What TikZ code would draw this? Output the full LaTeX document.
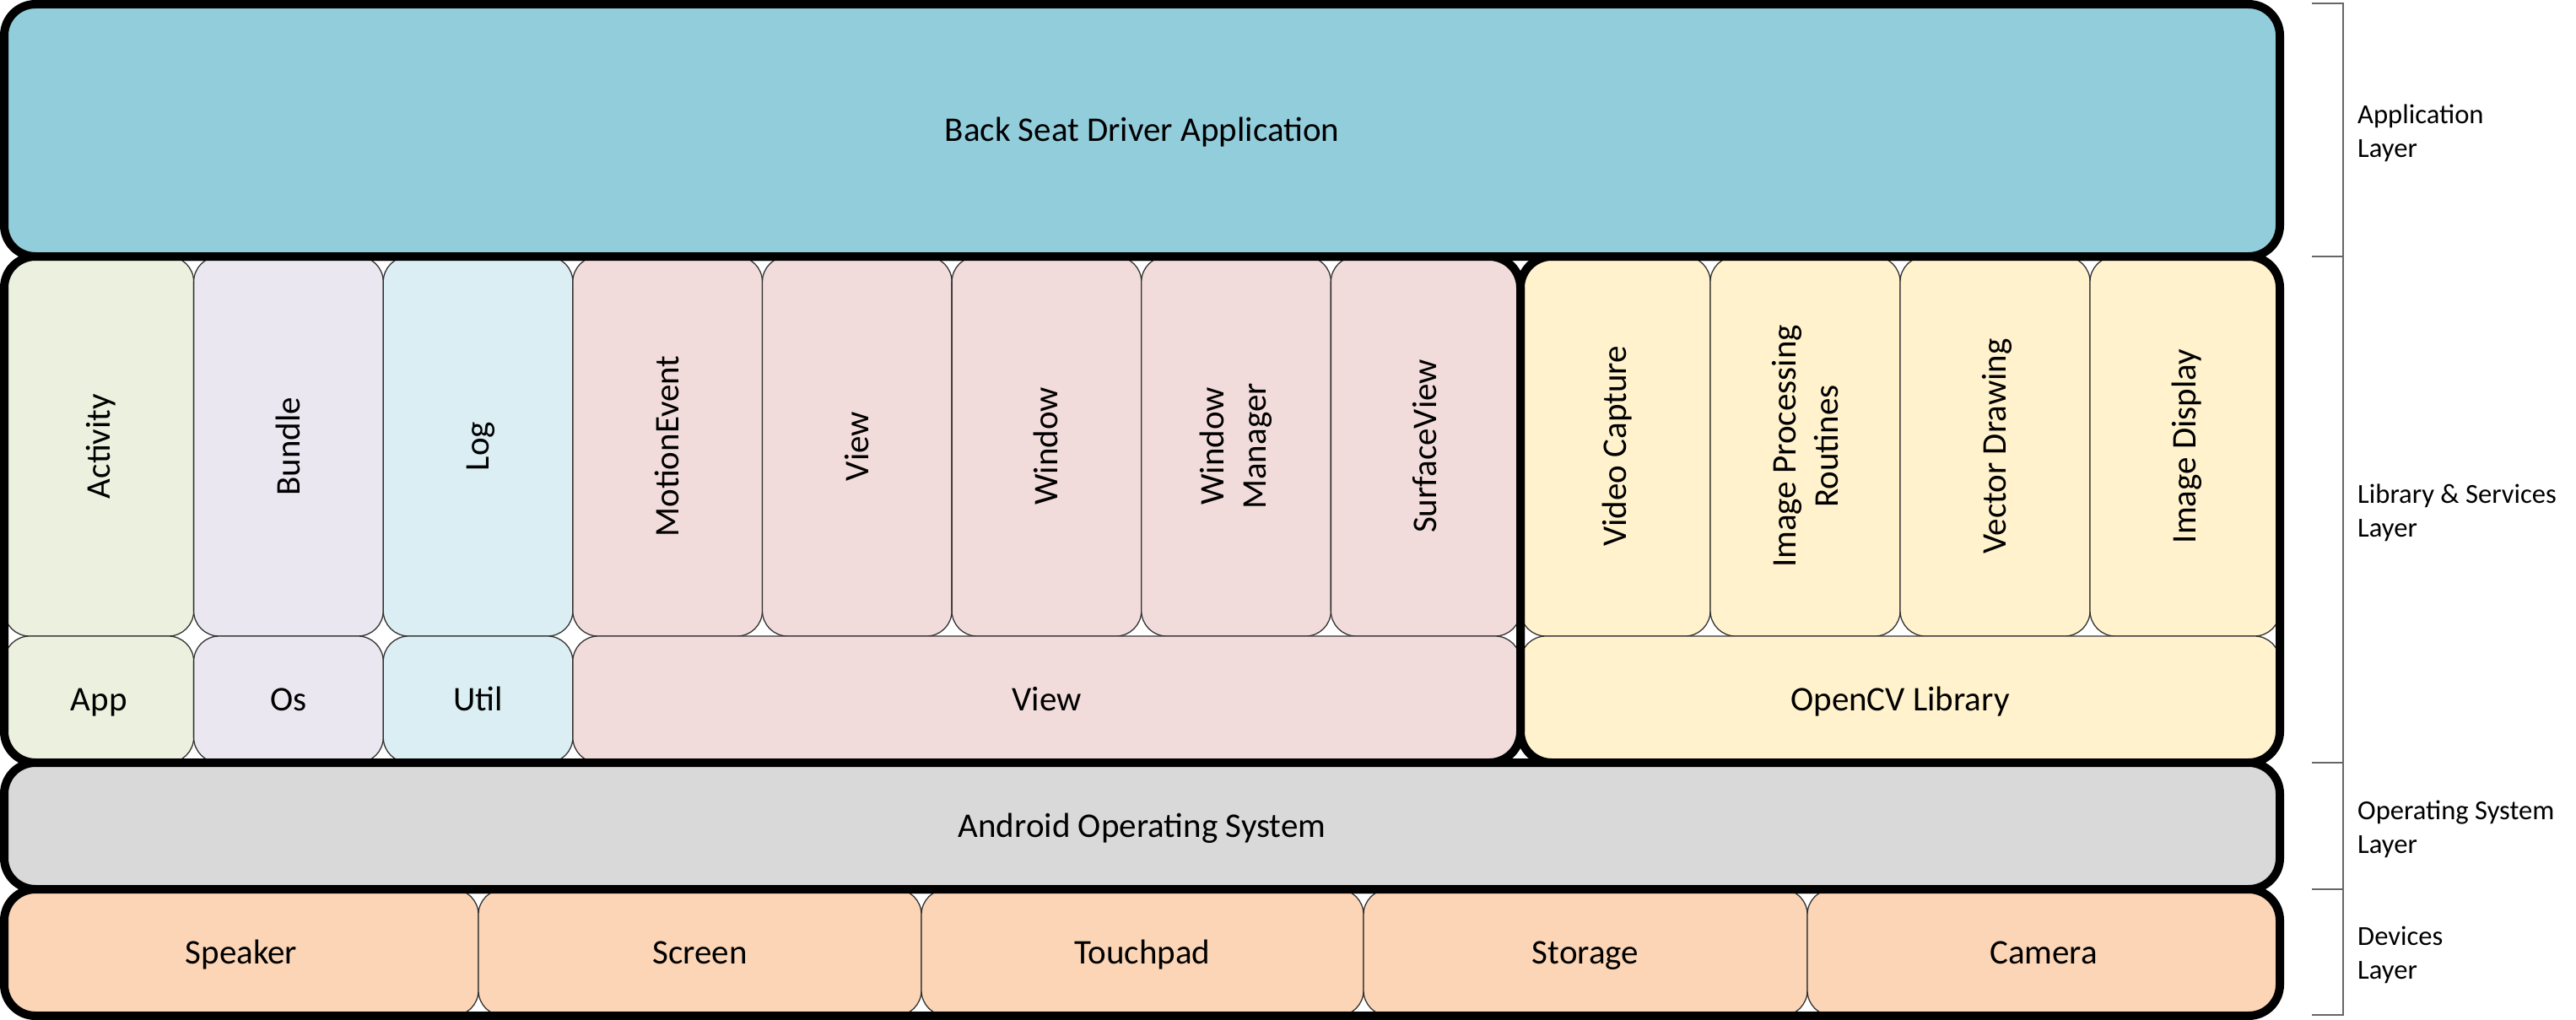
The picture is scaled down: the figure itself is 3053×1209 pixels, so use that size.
\documentclass[tikz,border=0pt]{standalone}
\usepackage{fontspec}
\setmainfont{Carlito}
\usetikzlibrary{positioning,fit}
\definecolor{appblue}{HTML}{92CDDC}
\definecolor{actgreen}{HTML}{EBF1DE}
\definecolor{bundlepurple}{HTML}{EAE7F0}
\definecolor{logblue}{HTML}{DAEEF3}
\definecolor{viewred}{HTML}{F2DCDB}
\definecolor{cvyellow}{HTML}{FFF2CC}
\definecolor{osgray}{HTML}{D9D9D9}
\definecolor{devorange}{HTML}{FBD5B5}
\tikzset{layer node/.style={draw,line width=10pt,rounded corners=37pt,inner sep=0pt,outer sep=0pt,
                            minimum width=2697pt,text height=26.4pt,text depth=0pt},
         group node/.style={draw,line width=10pt,rounded corners=37pt,inner sep=0pt,outer sep=0pt},
         cell node/.style={draw=black!80,line width=1.3pt,rounded corners=30pt,inner sep=0pt,outer sep=0pt,
                           text height=26.4pt,text depth=0pt},
         tall node/.style={cell node,minimum width=224.625pt,minimum height=450pt},
         short node/.style={cell node,minimum width=224.625pt,minimum height=150pt},
         dev node/.style={cell node,fill=devorange,minimum height=150pt},
         vtext/.style={rotate=90,inner sep=0pt,text height=26.4pt,text depth=0pt},
         vtext two/.style={rotate=90,inner sep=0pt,align=center},
         side label/.style={anchor=west,align=left,inner sep=0pt,font=\fontsize{32.6}{39.5}\selectfont},
         bracket line/.style={draw=black!60,line width=2pt},
            }

\begin{document}
\begin{tikzpicture}[x=1pt,y=1pt,font=\fontsize{41}{50}\selectfont]
    \useasboundingbox (0,0) rectangle (3053,-1209);

    \node[layer node,fill=appblue,minimum height=299pt,anchor=north west] (bsd) at (5,-5) {Back Seat Driver Application};

    % library & services
    \node[tall node,fill=actgreen,below right=0pt and 0pt of bsd.south west,label={[vtext]center:Activity}] (activity) {};
    \node[tall node,fill=bundlepurple,right=0pt of activity,label={[vtext]center:Bundle}] (bundle) {};
    \node[tall node,fill=logblue,right=0pt of bundle,label={[vtext]center:Log}] (log) {};
    \node[tall node,fill=viewred,right=0pt of log,label={[vtext]center:MotionEvent}] (motionevent) {};
    \node[tall node,fill=viewred,right=0pt of motionevent,label={[vtext]center:View}] (view) {};
    \node[tall node,fill=viewred,right=0pt of view,label={[vtext]center:Window}] (window) {};
    \node[tall node,fill=viewred,right=0pt of window,label={[vtext two]center:Window\\Manager}] (windowmgr) {};
    \node[tall node,fill=viewred,right=0pt of windowmgr,label={[vtext]center:SurfaceView}] (surfaceview) {};
    \node[tall node,fill=cvyellow,minimum width=225pt,right=0pt of surfaceview,label={[vtext]center:Video Capture}] (videocap) {};
    \node[tall node,fill=cvyellow,minimum width=225pt,right=0pt of videocap,label={[vtext two]center:Image Processing\\Routines}] (imgproc) {};
    \node[tall node,fill=cvyellow,minimum width=225pt,right=0pt of imgproc,label={[vtext]center:Vector Drawing}] (vecdraw) {};
    \node[tall node,fill=cvyellow,minimum width=225pt,right=0pt of vecdraw,label={[vtext]center:Image Display}] (imgdisp) {};

    \node[short node,fill=actgreen,below=0pt of activity] (app) {App};
    \node[short node,fill=bundlepurple,below=0pt of bundle] (os) {Os};
    \node[short node,fill=logblue,below=0pt of log] (util) {Util};
    \node[short node,fill=viewred,minimum width=1123.125pt,right=0pt of util] (viewpkg) {View};
    \node[short node,fill=cvyellow,minimum width=900pt,right=0pt of viewpkg] (opencv) {OpenCV Library};

    \node[group node,fit=(activity)(viewpkg)] (androidlib) {};
    \node[group node,fit=(videocap)(opencv)] (opencvlib) {};

    \node[layer node,fill=osgray,minimum height=150pt,below right=0pt and 0pt of app.south west] (android) {Android Operating System};

    % devices
    \node[dev node,minimum width=562pt,below right=0pt and 0pt of android.south west] (speaker) {Speaker};
    \node[dev node,minimum width=525pt,right=0pt of speaker] (screen) {Screen};
    \node[dev node,minimum width=524pt,right=0pt of screen] (touchpad) {Touchpad};
    \node[dev node,minimum width=526pt,right=0pt of touchpad] (storage) {Storage};
    \node[dev node,minimum width=560pt,right=0pt of storage] (camera) {Camera};
    \node[group node,fit=(speaker)(camera)] (devices) {};

    % layer bracket
    \path[bracket line] (2740,-4) -- (2777,-4) -- (2777,-1203) -- (2740,-1203)
    (2740,-304) -- (2777,-304)
    (2740,-904) -- (2777,-904)
    (2740,-1054) -- (2777,-1054);

    \node[side label] (applayer) at (2794,-158) {Application\\Layer};
    \node[side label] (liblayer) at (2794,-608) {Library \& Services\\Layer};
    \node[side label] (oslayer) at (2794,-983) {Operating System\\Layer};
    \node[side label] (devlayer) at (2794,-1132) {Devices\\Layer};

\end{tikzpicture}
\end{document}
